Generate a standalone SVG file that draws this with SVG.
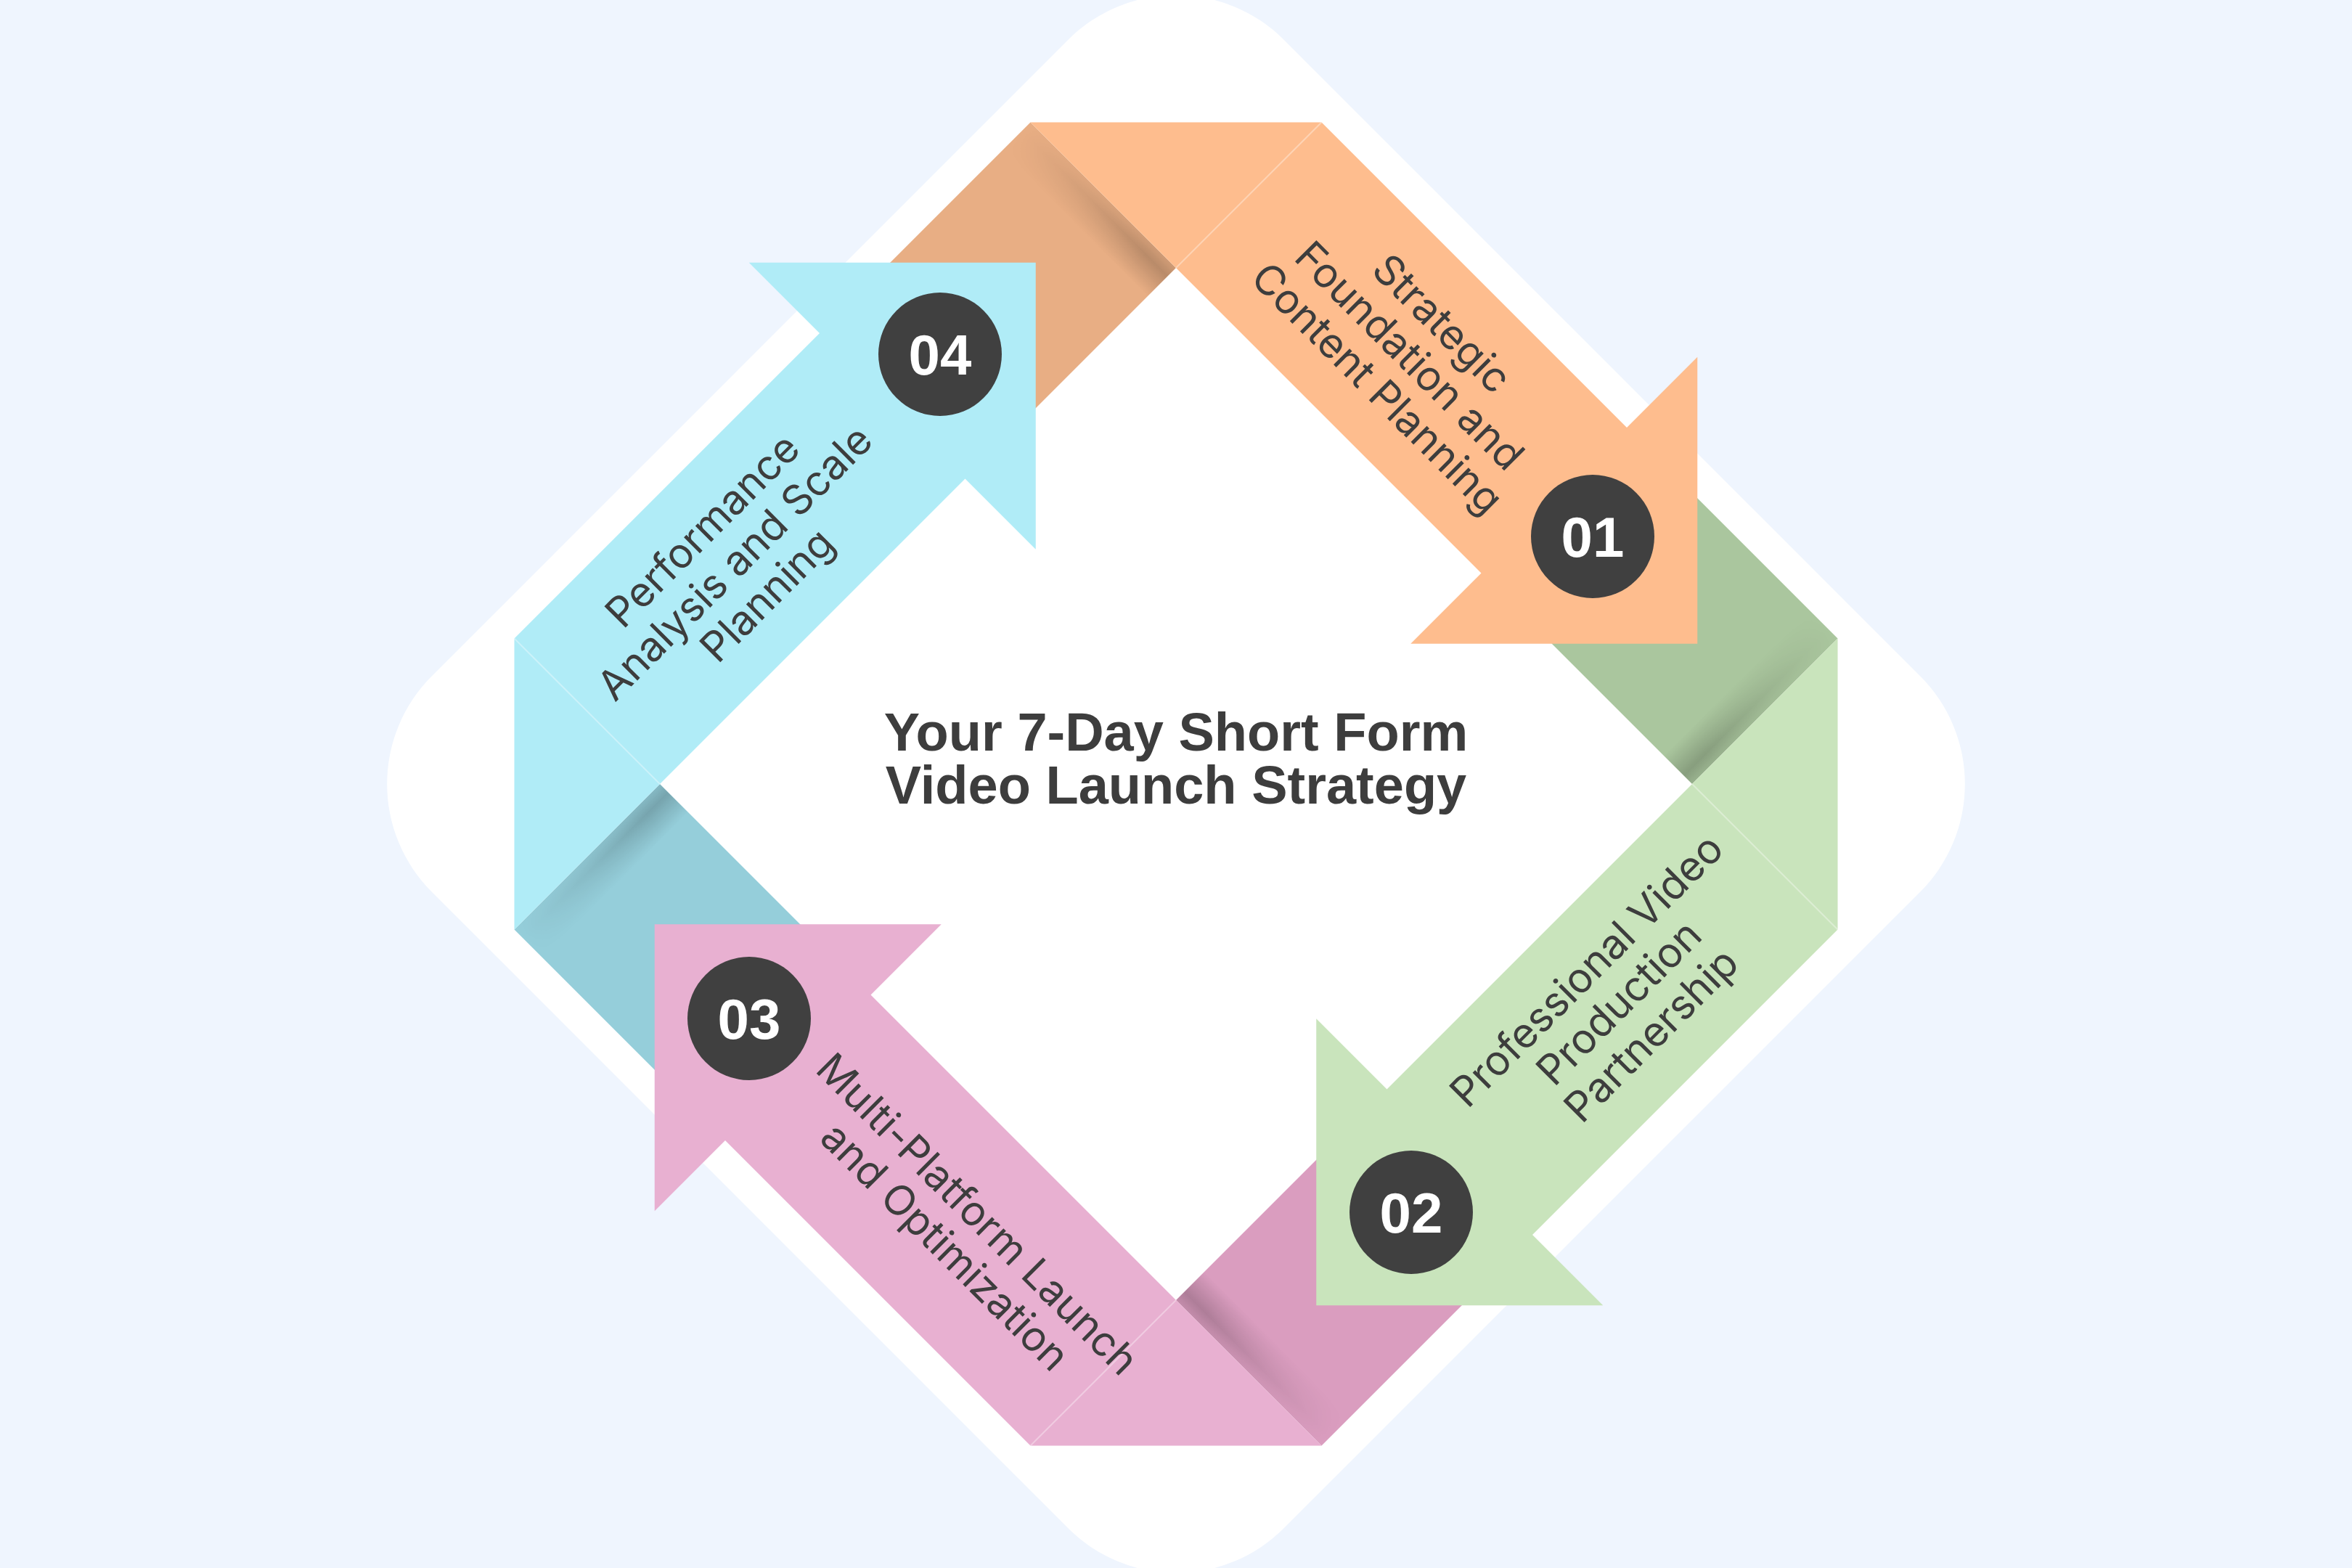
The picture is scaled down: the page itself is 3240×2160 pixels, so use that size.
<svg xmlns="http://www.w3.org/2000/svg" xmlns:xlink="http://www.w3.org/1999/xlink" width="3240" height="2160" viewBox="0 0 3240 2160">
<defs>
<style>
.lbl{font-family:Inter,"Liberation Sans",Arial,sans-serif;font-size:57px;fill:#3d3d3d;text-anchor:middle}
.num{font-family:"Liberation Sans",Arial,sans-serif;font-weight:bold;font-size:78px;fill:#ffffff;text-anchor:middle}
.badge{fill:#404040}
.title{font-family:"Liberation Sans",Arial,sans-serif;font-weight:bold;font-size:74px;fill:#3d3d3d;text-anchor:middle}
.crease{fill:none;stroke:#ffffff;stroke-opacity:0.35;stroke-width:2}
</style>
<linearGradient id="shade" gradientUnits="userSpaceOnUse" x1="0" y1="-711" x2="-38.9" y2="-672.1">
<stop offset="0" stop-color="#000" stop-opacity="0.10"/>
<stop offset="0.3" stop-color="#000" stop-opacity="0.20"/>
<stop offset="1" stop-color="#000" stop-opacity="0"/>
</linearGradient>
<linearGradient id="along" gradientUnits="userSpaceOnUse" x1="-200.5" y1="-911.5" x2="0" y2="-711">
<stop offset="0" stop-color="#000"/>
<stop offset="0.45" stop-color="#777"/>
<stop offset="0.85" stop-color="#fff"/>
<stop offset="1" stop-color="#fff"/>
</linearGradient>
<mask id="fadeAlong" maskUnits="userSpaceOnUse" x="-1200" y="-1200" width="2400" height="2400">
<path d="M -200.5 -911.5 L 0 -711 L -38.9 -672.1 L -239.4 -872.6 Z" fill="url(#along)"/>
</mask>
<path id="fold" d="M -200.5 -911.5 L 0 -711 L -205.5 -505.5 L -406 -706 Z"/>
<path id="shadow" d="M -200.5 -911.5 L 0 -711 L -38.9 -672.1 L -239.4 -872.6 Z"/>
<path id="arrow" d="M -200.5 -911.5 L 200.5 -911.5 L 621 -491 L 718.25 -588.25 L 718.25 -193.25 L 323.25 -193.25 L 420.5 -290.5 Z"/>
<path id="crease" d="M 0 -711 L 200.5 -911.5"/>
</defs>
<rect x="0" y="0" width="3240" height="2160" fill="#EFF5FE"/>
<rect id="backdrop" x="-830" y="-830" width="1660" height="1660" rx="210" ry="210" fill="#ffffff" transform="translate(1620 1080) rotate(45)"/>
<g id="folds">
<g transform="translate(1620 1080)"><use xlink:href="#fold" fill="#E8AE84"/><use xlink:href="#shadow" fill="url(#shade)" mask="url(#fadeAlong)"/></g>
<g transform="translate(1620 1080) rotate(90)"><use xlink:href="#fold" fill="#AAC69E"/><use xlink:href="#shadow" fill="url(#shade)" mask="url(#fadeAlong)"/></g>
<g transform="translate(1620 1080) rotate(180)"><use xlink:href="#fold" fill="#DA9DBF"/><use xlink:href="#shadow" fill="url(#shade)" mask="url(#fadeAlong)"/></g>
<g transform="translate(1620 1080) rotate(270)"><use xlink:href="#fold" fill="#95CEDA"/><use xlink:href="#shadow" fill="url(#shade)" mask="url(#fadeAlong)"/></g>
</g>
<g id="step-01">
<g transform="translate(1620 1080)"><use xlink:href="#arrow" fill="#FEBD8E"/><use xlink:href="#crease" class="crease"/></g>
<text class="lbl" transform="translate(1942 490) rotate(45)"><tspan x="0" y="-43">Strategic</tspan><tspan x="0" y="20">Foundation and</tspan><tspan x="0" y="83">Content Planning</tspan></text>
<circle class="badge" cx="2194" cy="739" r="85"/>
<text class="num" x="2194" y="767">01</text>
</g>
<g id="step-02">
<g transform="translate(1620 1080) rotate(90)"><use xlink:href="#arrow" fill="#C9E4BC"/><use xlink:href="#crease" class="crease"/></g>
<text class="lbl" transform="translate(2230 1381) rotate(-45)"><tspan x="0" y="-43">Professional Video</tspan><tspan x="0" y="20">Production</tspan><tspan x="0" y="83">Partnership</tspan></text>
<circle class="badge" cx="1944" cy="1670" r="85"/>
<text class="num" x="1944" y="1698">02</text>
</g>
<g id="step-03">
<g transform="translate(1620 1080) rotate(180)"><use xlink:href="#arrow" fill="#E8B0D1"/><use xlink:href="#crease" class="crease"/></g>
<text class="lbl" transform="translate(1324 1695) rotate(45)"><tspan x="0" y="-12">Multi-Platform Launch</tspan><tspan x="0" y="51">and Optimization</tspan></text>
<circle class="badge" cx="1032" cy="1403" r="85"/>
<text class="num" x="1032" y="1431">03</text>
</g>
<g id="step-04">
<g transform="translate(1620 1080) rotate(270)"><use xlink:href="#arrow" fill="#B0ECF7"/><use xlink:href="#crease" class="crease"/></g>
<text class="lbl" transform="translate(1012 775) rotate(-45)"><tspan x="0" y="-43">Performance</tspan><tspan x="0" y="20">Analysis and Scale</tspan><tspan x="0" y="83">Planning</tspan></text>
<circle class="badge" cx="1295" cy="488" r="85"/>
<text class="num" x="1295" y="516">04</text>
</g>
<g id="connectors"></g>
<g id="title">
<text class="title" x="1620" y="1034">Your 7-Day Short Form</text>
<text class="title" x="1620" y="1107">Video Launch Strategy</text>
</g>
</svg>
